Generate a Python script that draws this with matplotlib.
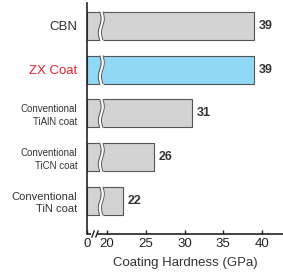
import matplotlib
matplotlib.use("Agg")
import matplotlib.pyplot as plt
import numpy as np

categories = ["CBN", "ZX Coat", "Conventional\nTiAlN coat", "Conventional\nTiCN coat", "Conventional\nTiN coat"]
values = [39, 39, 31, 26, 22]
tick_vals = [20, 25, 30, 35, 40]
tick_labels = ["20", "25", "30", "35", "40"]
axis_start = 17.4
axis_start_label = "0"

plt.rcParams['font.family'] = ['Liberation Sans', 'DejaVu Sans']

fig = plt.figure(figsize=(2.83, 2.73), dpi=100)
ax = fig.add_axes([0.307, 0.143, 0.693, 0.846])

gray = "#d3d3d3"
blue = "#8fd8f6"
edge = "#555555"
colors = [blue if c == "ZX Coat" else gray for c in categories]

ypos = np.arange(len(categories))
h = 0.64
ax.barh(ypos, [v - axis_start for v in values], left=axis_start, height=h,
        color=colors, edgecolor=edge, linewidth=0.8, zorder=2)

# wavy break in each bar
for y in ypos:
    yy = np.linspace(y - h / 2 - 0.03, y + h / 2 + 0.03, 60)
    t = (yy - (y - h / 2)) / h
    xl = 19.05 + 0.18 * np.sin(2 * np.pi * t)
    xr = xl + 0.42
    ax.fill_betweenx(yy, xl, xr, color="white", zorder=3, linewidth=0)
    m = (yy >= y - h / 2) & (yy <= y + h / 2)
    ax.plot(xl[m], yy[m], color=edge, lw=0.7, zorder=4)
    ax.plot(xr[m], yy[m], color=edge, lw=0.7, zorder=4)

for y, v in zip(ypos, values):
    ax.text(v + 0.6, y, str(v), va="center", ha="left", fontsize=9,
            fontweight="bold", color="#333333")

ax.set_xlim(axis_start, 42.7)
ax.set_ylim(len(categories) - 1 + 0.75, -0.52)

ax.set_yticks(ypos)
ax.set_yticklabels(categories)
for lbl, c in zip(ax.get_yticklabels(), categories):
    if c == "ZX Coat":
        lbl.set_color("#e8202a")
        lbl.set_fontsize(9.5)
    elif "TiN" in c:
        lbl.set_fontsize(8)
        lbl.set_color("#333333")
        lbl.set_linespacing(1.3)
    elif "\n" in c:
        lbl.set_fontsize(7)
        lbl.set_color("#333333")
        lbl.set_linespacing(1.3)
    else:
        lbl.set_fontsize(9.5)
        lbl.set_color("#333333")
ax.tick_params(axis="y", length=0, pad=7)

ax.set_xticks([axis_start] + tick_vals)
ax.set_xticklabels([axis_start_label] + tick_labels, fontsize=9.5, color="#222222")
ax.tick_params(axis="x", direction="in", length=3, width=1, color="#222222", pad=3)
ax.set_xlabel("Coating Hardness (GPa)", fontsize=9.5, color="#333333", labelpad=5)

for s in ["top", "right"]:
    ax.spines[s].set_visible(False)
ax.spines["left"].set_color("#222222")
ax.spines["left"].set_linewidth(1.2)
ax.spines["bottom"].set_color("#222222")
ax.spines["bottom"].set_linewidth(1.2)
ax.spines["bottom"].set_bounds(18.85, 42.7)

tr = ax.get_xaxis_transform()
ax.plot([axis_start, 17.9], [0, 0], color="#222222", lw=1.2, transform=tr,
        clip_on=False, solid_capstyle="butt")
for x0 in [18.05, 18.55]:
    ax.plot([x0, x0 + 0.3], [-0.013, 0.013], color="#222222", lw=1.0,
            transform=tr, clip_on=False)

fig.savefig("out.png", dpi=100)
